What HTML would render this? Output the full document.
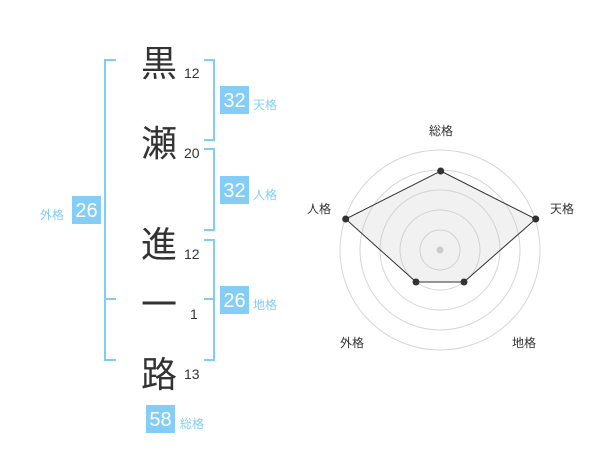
<!DOCTYPE html>
<html><head><meta charset="utf-8"><style>
html,body{margin:0;padding:0;background:#fff;width:600px;height:470px;overflow:hidden}
svg{display:block;font-family:"Liberation Sans","Noto Sans CJK JP",sans-serif}
</style></head><body>
<svg width="600" height="470" viewBox="0 0 600 470">
<g stroke="#7fccf7" stroke-width="2" fill="none">
<path d="M116 60H105V360H116M105 299H116"/>
<path d="M204 60H214V140H204"/>
<path d="M204 149H214V230H204"/>
<path d="M204 240H214V360H204M204 299H214"/>
</g>
<g fill="#333" font-size="36">
<text x="141" y="76">黒</text>
<text x="141" y="156">瀬</text>
<text x="141" y="257">進</text>
<text x="141" y="317">一</text>
<text x="141" y="387">路</text>
</g>
<g fill="#333" font-size="14">
<text x="184" y="78">12</text>
<text x="184" y="158">20</text>
<text x="184" y="259">12</text>
<text x="190" y="319">1</text>
<text x="184" y="379">13</text>
</g>
<g fill="#83cdf7">
<rect x="220" y="86" width="29" height="28"/>
<rect x="220" y="176" width="29" height="28"/>
<rect x="220" y="286" width="29" height="28"/>
<rect x="72" y="196" width="29" height="28"/>
<rect x="146" y="405" width="29" height="28"/>
</g>
<g fill="#fff" font-size="20" text-anchor="middle">
<text x="234.5" y="107">32</text>
<text x="234.5" y="197">32</text>
<text x="234.5" y="307">26</text>
<text x="86.5" y="217">26</text>
<text x="160.5" y="426">58</text>
</g>
<g fill="#83cdf7" font-size="12">
<text x="253" y="109">天格</text>
<text x="253" y="199">人格</text>
<text x="253" y="309">地格</text>
<text x="40" y="219">外格</text>
<text x="180" y="428">総格</text>
</g>
<g fill="none" stroke="#d6d6d6" stroke-width="1">
<circle cx="440" cy="250" r="100"/>
<circle cx="440" cy="250" r="80"/>
<circle cx="440" cy="250" r="60"/>
<circle cx="440" cy="250" r="40"/>
<circle cx="440" cy="250" r="20"/>
</g>
<polygon points="440.7,171 535.7,219 464,282 416,282 345.7,219" fill="rgba(200,200,200,0.25)" stroke="#333" stroke-width="1"/>
<circle cx="440" cy="250" r="3.5" fill="#ccc"/>
<g fill="#333">
<circle cx="440.7" cy="171" r="3.5"/>
<circle cx="535.7" cy="219" r="3.5"/>
<circle cx="464" cy="282" r="3.5"/>
<circle cx="416" cy="282" r="3.5"/>
<circle cx="345.7" cy="219" r="3.5"/>
</g>
<g fill="#333" font-size="12" text-anchor="middle">
<text x="441" y="135">総格</text>
<text x="562" y="213">天格</text>
<text x="319" y="213">人格</text>
<text x="352" y="347">外格</text>
<text x="524" y="347">地格</text>
</g>
</svg>
</body></html>
